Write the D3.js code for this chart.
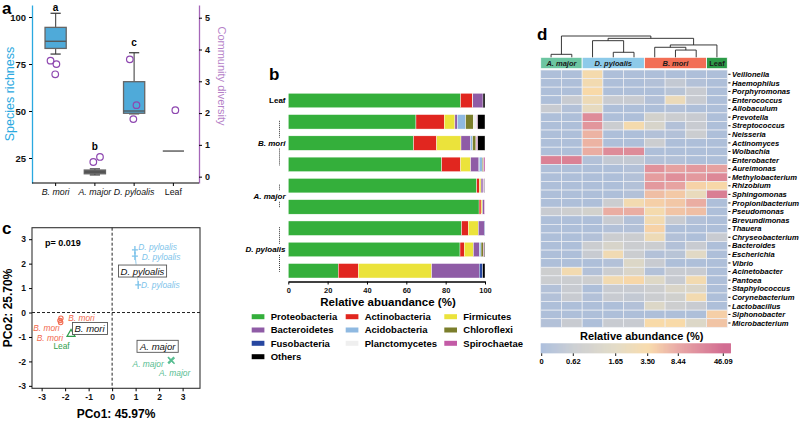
<!DOCTYPE html>
<html>
<head>
<meta charset="utf-8">
<script src="https://cdn.jsdelivr.net/npm/d3@7"></script>
<style>
  body { margin: 0; background: #fff; }
  svg { display: block; font-family: "Liberation Sans", Arial, sans-serif; }
</style>
</head>
<body>
<svg id="fig" width="800" height="421"></svg>
<script>
// ---------- panel a : richness boxplots + diversity points
const groupsA = ["B. mori", "A. major", "D. pyloalis", "Leaf"];
const richMin = [80.3, 16.0, 48.5, 28.7];
const richQ1  = [83.3, 16.6, 48.8, 28.7];
const richMed = [87.1, 17.5, 50.0, 28.7];
const richQ3  = [94.5, 18.6, 65.6, 28.7];
const richMax = [102.0, 19.2, 81.0, 28.7];
const sigLetters = ["a", "b", "c", ""];
const sigLetterAt = [105, 31, 86.5, null];
const divGroup = ["B. mori", "B. mori", "B. mori", "A. major", "A. major", "D. pyloalis", "D. pyloalis", "D. pyloalis", "Leaf"];
const divValue = [3.65, 3.54, 3.22, 0.46, 0.62, 3.69, 2.25, 1.81, 2.09];
const divJitter = [-0.13, 0.02, -0.01, -0.04, 0.13, -0.11, 0.06, -0.02, 0.05];
const richTicks = [25, 50, 75, 100];
const divTicks = [0, 1, 2, 3, 4, 5];

// ---------- panel b : phylum composition
const barSamples = ["Leaf", "BM1", "BM2", "BM3", "AM1", "AM2", "DP1", "DP2", "DP3"];
const phyla = ["Proteobacteria", "Actinobacteria", "Firmicutes", "Bacteroidetes", "Fusobacteria",
               "Acidobacteria", "Chloroflexi", "Planctomycetes", "Spirochaetae", "Others"];
const phylumColors = ["#34AF3B", "#E1261F", "#EBE33B", "#8F5CA6", "#2747A0",
                      "#8FB9E1", "#7B7E2B", "#EFEFEF", "#C35BA6", "#000000"];
const proteobacteria = [87.6, 64.9, 63.7, 78.0, 95.8, 97.0, 88.1, 87.3, 25.4];
const actinobacteria = [6.0, 14.4, 11.7, 9.6, 1.3, 1.0, 3.4, 2.2, 10.2];
const firmicutes     = [0.2, 5.4, 12.4, 5.1, 0.9, 0.7, 5.1, 4.6, 37.3];
const bacteroidetes  = [5.2, 1.2, 4.9, 4.2, 1.0, 1.0, 3.1, 3.0, 24.2];
const fusobacteria   = [0, 0, 0, 0.3, 0, 0, 0.3, 0, 1.7];
const acidobacteria  = [0, 4.3, 1.0, 1.4, 0.3, 0, 0, 0.9, 0];
const chloroflexi    = [0, 3.9, 1.7, 0.7, 0, 0, 0, 1.2, 0];
const planctomycetes = [0, 1.7, 0.2, 0, 0, 0, 0, 0, 0];
const spirochaetae   = [0, 0.5, 0.7, 0.7, 0.5, 0.3, 0, 0.4, 0];
const others         = [1.0, 3.7, 3.7, 0, 0.2, 0, 0, 0.4, 1.2];
const legendOrder = ["Proteobacteria", "Actinobacteria", "Firmicutes", "Bacteroidetes", "Acidobacteria",
                     "Chloroflexi", "Fusobacteria", "Planctomycetes", "Spirochaetae", "Others"];
const barGroupNames = ["Leaf", "B. mori", "A. major", "D. pyloalis"];
const barGroupFirst = [0, 1, 4, 6];
const barGroupLast  = [0, 3, 5, 8];
const pctTicks = [0, 20, 40, 60, 80, 100];

// ---------- panel c : PCoA
const pcoGroup = ["D. pyloalis", "D. pyloalis", "D. pyloalis", "B. mori", "B. mori", "B. mori", "Leaf", "A. major", "A. major"];
const pco1 = [0.97, 0.97, 1.11, -2.18, -2.22, -2.19, -1.75, 2.50, 2.53];
const pco2 = [2.56, 2.31, 1.13, -0.23, -0.33, -0.41, -0.88, -1.94, -1.97];
const pcoLabelX = [1.11, 1.26, 1.23, -1.87, -3.36, -3.21, -2.50, 0.87, 2.00];
const pcoLabelY = [2.67, 2.25, 1.13, -0.23, -0.64, -1.03, -1.39, -2.11, -2.48];
const centroidName = ["D. pyloalis", "B. mori", "A. major"];
const centroidX = [1.29, -0.96, 1.94];
const centroidY = [1.69, -0.66, -1.39];
const pcoTicks = [-3, -2, -1, 0, 1, 2, 3];
const groupColor = { "D. pyloalis": "#7DC3EA", "B. mori": "#F26B50", "Leaf": "#2E9E4A", "A. major": "#57BD91" };

// ---------- panel d : genus heatmap
const heatSamples = ["AM1", "AM2", "DP1", "DP2", "DP3", "BM1", "BM2", "BM3", "Leaf"];
const heatGroupNames = ["A. major", "D. pyloalis", "B. mori", "Leaf"];
const heatGroupSize = [2, 3, 3, 1];
const heatGroupColors = ["#6CC5A1", "#8DCAE9", "#F26E55", "#2C9B48"];
const genera = ["Veillonella", "Haemophilus", "Porphyromonas", "Enterococcus", "Allobaculum", "Prevotella",
  "Streptococcus", "Neisseria", "Actinomyces", "Wolbachia", "Enterobacter", "Aureimonas", "Methylobacterium",
  "Rhizobium", "Sphingomonas", "Propionibacterium", "Pseudomonas", "Brevundimonas", "Thauera",
  "Chryseobacterium", "Bacteroides", "Escherichia", "Vibrio", "Acinetobacter", "Pantoea", "Staphylococcus",
  "Corynebacterium", "Lactobacillus", "Siphonobacter", "Microbacterium"];
const abundance = [
  [0.1, 0.1, 3.2, 0.1, 0.1, 0.1, 0.1, 0.1, 0.1],
  [0.1, 0.1, 3.0, 0.1, 0.1, 0.2, 0.5, 0.2, 0.1],
  [0.1, 0.1, 3.6, 0.1, 0.1, 0.1, 0.3, 0.6, 0.1],
  [0.1, 0.6, 2.6, 0.6, 0.6, 0.2, 2.4, 0.6, 0.1],
  [0.6, 0.2, 2.0, 0.1, 0.1, 0.1, 0.2, 0.1, 0.1],
  [0.1, 0.1, 22, 0.1, 0.1, 1.0, 0.7, 0.6, 0.1],
  [0.1, 0.1, 16, 0.7, 3.2, 1.2, 0.2, 0.6, 0.1],
  [0.1, 0.1, 7.0, 0.1, 0.1, 0.2, 0.2, 0.7, 0.1],
  [0.1, 0.1, 7.0, 0.1, 0.1, 0.7, 0.1, 0.1, 0.1],
  [0.1, 0.1, 7.5, 22, 22, 0.1, 0.1, 0.1, 0.1],
  [28, 28, 0.2, 0.5, 0.5, 0.2, 0.2, 0.1, 0.1],
  [0.1, 0.1, 0.1, 0.1, 0.2, 18, 9.5, 14, 9.5],
  [0.1, 0.1, 0.1, 0.1, 0.2, 12, 20, 14, 24],
  [0.1, 0.1, 0.1, 0.1, 0.2, 14, 8.5, 4.2, 3.8],
  [0.1, 0.1, 0.1, 0.1, 0.2, 6.0, 5.0, 2.2, 30],
  [0.1, 0.1, 0.1, 0.7, 3.0, 4.5, 5.2, 7.5, 0.1],
  [0.6, 0.8, 1.0, 7.5, 7.5, 3.2, 5.5, 6.0, 0.1],
  [0.1, 0.1, 0.1, 0.6, 0.2, 3.0, 0.6, 0.2, 0.1],
  [0.1, 0.1, 0.1, 0.2, 0.2, 4.2, 0.1, 0.1, 0.1],
  [0.1, 0.1, 0.2, 0.7, 0.7, 2.6, 0.2, 0.1, 0.6],
  [0.1, 0.1, 0.7, 1.2, 0.7, 0.7, 0.2, 0.6, 0.1],
  [0.1, 0.1, 0.6, 2.8, 0.7, 0.2, 0.3, 1.6, 0.1],
  [0.1, 0.1, 0.1, 0.2, 1.4, 0.6, 0.1, 0.1, 0.1],
  [0.8, 3.0, 0.2, 0.7, 1.3, 0.2, 0.6, 0.6, 0.1],
  [0.7, 0.7, 0.8, 3.0, 3.8, 1.5, 0.6, 3.0, 0.1],
  [0.2, 0.6, 0.1, 0.6, 0.6, 0.8, 1.3, 1.3, 0.1],
  [0.2, 0.6, 0.2, 0.6, 0.5, 0.7, 0.9, 3.0, 0.1],
  [0.1, 0.1, 0.1, 0.1, 0.2, 1.4, 0.8, 0.6, 0.1],
  [0.1, 0.1, 0.1, 0.1, 0.1, 0.1, 0.1, 0.1, 4.5],
  [0.2, 0.6, 0.1, 0.6, 0.6, 3.5, 3.5, 1.4, 5.5]
];
const colorBreaks = [0, 0.62, 1.65, 3.50, 8.44, 46.09];
const colorBreakLabels = ["0", "0.62", "1.65", "3.50", "8.44", "46.09"];
const colorStops = ["#A9BCDB", "#C9CCD1", "#E2DAC4", "#F8DAA8", "#E7A3A1", "#CF628A"];
// column clustering (merge heights, relative)
const dendro = { h: 1.0, children: [
  { h: 0.14, children: [{ name: "AM1" }, { name: "AM2" }] },
  { h: 0.89, children: [
    { h: 0.78, children: [{ name: "DP1" }, { h: 0.235, children: [{ name: "DP2" }, { name: "DP3" }] }] },
    { h: 0.58, children: [
      { h: 0.47, children: [{ name: "BM1" }, { h: 0.34, children: [{ name: "BM2" }, { name: "BM3" }] }] },
      { name: "Leaf" }] }] }] };

const svg = d3.select("#fig");
svg.append("rect").attr("width", 800).attr("height", 421).attr("fill", "#fff");

function letter(t, x, y) {
  svg.append("text").attr("x", x).attr("y", y).attr("font-size", 17)
    .attr("font-weight", "bold").text(t);
}
letter("a", 2, 14); letter("b", 269, 80); letter("c", 2, 234); letter("d", 537, 40);

// axis text styling, dropping d3's own font attributes
function styleAxis(g, size, weight) {
  g.attr("font-family", null).attr("font-size", null);
  g.selectAll("text").attr("font-size", size).attr("font-weight", weight || "bold").attr("fill", "#111");
  return g;
}

// =============== panel a
const blueA = "#2AA9E0", purpleA = "#A566B8";
const xA = d3.scaleBand().domain(groupsA).range([36, 193]);
const yRich = d3.scaleLinear().domain([11.7, 106.4]).range([183, 5]);
const yDiv = d3.scaleLinear().domain([-0.2, 5.4]).range([183, 5]);
const ga = svg.append("g");

const axL = ga.append("g").attr("transform", "translate(32,0)")
  .call(d3.axisLeft(yRich).tickValues(richTicks).tickSize(3).tickSizeOuter(0));
axL.select(".domain").attr("stroke", blueA).attr("stroke-width", 1.3);
styleAxis(axL, 9.5);

const axR = ga.append("g").attr("transform", "translate(199,0)")
  .call(d3.axisRight(yDiv).tickValues(divTicks).tickFormat(d3.format("d")).tickSize(3).tickSizeOuter(0));
axR.select(".domain").attr("stroke", purpleA).attr("stroke-width", 1.3);
styleAxis(axR, 9);

const axB = ga.append("g").attr("transform", "translate(0,183)")
  .call(d3.axisBottom(xA).tickSize(3).tickSizeOuter(0));
axB.select(".domain").attr("d", "M32,0H199").attr("stroke-width", 1.2);
styleAxis(axB, 8.8, "normal");
axB.selectAll("text").attr("font-style", d => d === "Leaf" ? "normal" : "italic");

ga.append("text").attr("transform", "translate(14,94) rotate(-90)")
  .attr("text-anchor", "middle").attr("font-size", 12.5).attr("fill", blueA).text("Species richness");
ga.append("text").attr("transform", "translate(218,76) rotate(90)")
  .attr("text-anchor", "middle").attr("font-size", 11).attr("fill", "#B57FC8").text("Community diversity");

const boxW = xA.bandwidth() * 0.54, capW = xA.bandwidth() * 0.26;
groupsA.forEach((g, i) => {
  const cx = xA(g) + xA.bandwidth() / 2;
  if (richMin[i] === richMax[i]) {
    ga.append("line").attr("x1", cx - boxW / 2).attr("x2", cx + boxW / 2)
      .attr("y1", yRich(richMed[i])).attr("y2", yRich(richMed[i])).attr("stroke", "#555").attr("stroke-width", 1.4);
    return;
  }
  ga.append("line").attr("x1", cx).attr("x2", cx).attr("y1", yRich(richMin[i])).attr("y2", yRich(richMax[i]))
    .attr("stroke", "#555").attr("stroke-width", 1.2);
  [richMin[i], richMax[i]].forEach(v => ga.append("line").attr("x1", cx - capW / 2).attr("x2", cx + capW / 2)
    .attr("y1", yRich(v)).attr("y2", yRich(v)).attr("stroke", "#333").attr("stroke-width", 1.2));
  ga.append("rect").attr("x", cx - boxW / 2).attr("width", boxW)
    .attr("y", yRich(richQ3[i])).attr("height", yRich(richQ1[i]) - yRich(richQ3[i]))
    .attr("fill", i === 1 ? "#555" : "#4FAAD9").attr("stroke", "#666").attr("stroke-width", 1.3);
  ga.append("line").attr("x1", cx - boxW / 2).attr("x2", cx + boxW / 2)
    .attr("y1", yRich(richMed[i])).attr("y2", yRich(richMed[i])).attr("stroke", "#555").attr("stroke-width", 1.3);
  if (sigLetters[i]) ga.append("text").attr("x", cx).attr("y", yRich(sigLetterAt[i]) + 3.5)
    .attr("text-anchor", "middle").attr("font-size", 10).attr("font-weight", "bold").text(sigLetters[i]);
});
divValue.forEach((v, i) => {
  const g = divGroup[i];
  const cx = xA(g) + xA.bandwidth() / 2 + divJitter[i] * xA.step();
  ga.append("circle").attr("cx", cx).attr("cy", yDiv(v)).attr("r", 3.3)
    .attr("fill", "none").attr("stroke", "#8E47B0").attr("stroke-width", 1.2);
});

// =============== panel b
const gb = svg.append("g");
const xB = d3.scaleLinear().domain([0, 100]).range([288.3, 485]);
const yB = d3.scaleBand().domain(barSamples).range([89.9, 281.4]).paddingInner(0.32).paddingOuter(0.16);
const phylumValues = [proteobacteria, actinobacteria, firmicutes, bacteroidetes, fusobacteria,
  acidobacteria, chloroflexi, planctomycetes, spirochaetae, others];
const rows = barSamples.map((s, i) => {
  const r = { sample: s };
  phyla.forEach((p, k) => r[p] = phylumValues[k][i]);
  return r;
});
const stacked = d3.stack().keys(phyla)(rows);
const colorB = d3.scaleOrdinal().domain(phyla).range(phylumColors);
gb.selectAll("g.layer").data(stacked).join("g").attr("class", "layer")
  .attr("fill", d => colorB(d.key))
  .selectAll("rect").data(d => d.filter(e => e[1] > e[0])).join("rect")
  .attr("x", d => xB(d[0])).attr("width", d => xB(d[1]) - xB(d[0]))
  .attr("y", d => yB(d.data.sample)).attr("height", yB.bandwidth())
  .attr("stroke", "#fff").attr("stroke-width", 0.4);

const axBB = gb.append("g").attr("transform", "translate(0,281.5)")
  .call(d3.axisBottom(xB).tickValues(pctTicks).tickSize(3).tickSizeOuter(0));
axBB.select(".domain").attr("stroke-width", 1.6);
styleAxis(axBB, 7.5);
gb.append("text").attr("x", 388).attr("y", 306).attr("text-anchor", "middle")
  .attr("font-size", 11.5).attr("font-weight", "bold").text("Relative abuandance (%)");

barGroupNames.forEach((name, i) => {
  const yTop = yB(barSamples[barGroupFirst[i]]) + yB.bandwidth() / 2;
  const yBot = yB(barSamples[barGroupLast[i]]) + yB.bandwidth() / 2;
  const yMid = (yTop + yBot) / 2;
  gb.append("text").attr("x", 285.5).attr("y", yMid).attr("dy", "0.35em").attr("text-anchor", "end")
    .attr("font-size", 8).attr("font-weight", "bold").attr("font-style", name === "Leaf" ? "normal" : "italic")
    .text(name);
  if (yBot > yTop) {
    [[yTop - 1, yMid - 5.5], [yMid + 5.5, yBot + 1]].forEach(([a, b]) => {
      gb.append("line").attr("x1", 279.5).attr("x2", 279.5).attr("y1", a).attr("y2", b)
        .attr("stroke", "#222").attr("stroke-width", 0.9).attr("stroke-dasharray", "1,1");
    });
  }
});

const legColX = [251.7, 345.7, 444.3], legRowY = [316.7, 330, 343.3, 356.7];
legendOrder.forEach((p, i) => {
  const cx = legColX[i % 3], cy = legRowY[Math.floor(i / 3)];
  gb.append("rect").attr("x", cx).attr("y", cy - 2.5).attr("width", 12.7).attr("height", 5).attr("fill", colorB(p));
  gb.append("text").attr("x", cx + 19).attr("y", cy).attr("dy", "0.35em")
    .attr("font-size", 9.5).attr("font-weight", "bold").text(p);
});

// =============== panel c
const gc = svg.append("g");
const xC = d3.scaleLinear().domain([-3.41, 3.74]).range([32, 200]);
const yC = d3.scaleLinear().domain([-3.1, 3.47]).range([388.3, 227.7]);
gc.append("rect").attr("x", 32).attr("y", 227.7).attr("width", 168).attr("height", 160.6)
  .attr("fill", "none").attr("stroke", "#333").attr("stroke-width", 1.1);
const axCx = gc.append("g").attr("transform", "translate(0,388.3)")
  .call(d3.axisBottom(xC).tickValues(pcoTicks).tickFormat(d => String(d)).tickSize(3).tickSizeOuter(0));
axCx.select(".domain").remove();
styleAxis(axCx, 8.5);
const axCy = gc.append("g").attr("transform", "translate(32,0)")
  .call(d3.axisLeft(yC).tickValues(pcoTicks).tickFormat(d => String(d)).tickSize(3).tickSizeOuter(0));
axCy.select(".domain").remove();
styleAxis(axCy, 8.5);
gc.append("line").attr("x1", xC(0)).attr("x2", xC(0)).attr("y1", 227.7).attr("y2", 388.3)
  .attr("stroke", "#222").attr("stroke-dasharray", "3,2");
gc.append("line").attr("x1", 32).attr("x2", 200).attr("y1", yC(0)).attr("y2", yC(0))
  .attr("stroke", "#222").attr("stroke-dasharray", "3,2");
gc.append("text").attr("x", 116).attr("y", 418).attr("text-anchor", "middle")
  .attr("font-size", 12).attr("font-weight", "bold").text("PCo1: 45.97%");
gc.append("text").attr("transform", "translate(12,308) rotate(-90)").attr("text-anchor", "middle")
  .attr("font-size", 12).attr("font-weight", "bold").text("PCo2: 25.70%");
gc.append("text").attr("x", 45).attr("y", 242.5).attr("dy", "0.35em")
  .attr("font-size", 9).attr("font-weight", "bold").text("p= 0.019");

// spider lines from group means
d3.groups(pco1.map((v, i) => i), i => pcoGroup[i]).forEach(([g, idx]) => {
  if (idx.length < 2) return;
  const mx = d3.mean(idx, i => pco1[i]), my = d3.mean(idx, i => pco2[i]);
  idx.forEach(i => gc.append("line").attr("x1", xC(mx)).attr("y1", yC(my))
    .attr("x2", xC(pco1[i])).attr("y2", yC(pco2[i]))
    .attr("stroke", groupColor[g]).attr("stroke-width", 0.8).attr("opacity", 0.6));
});
pco1.forEach((v, i) => {
  const g = pcoGroup[i], c = groupColor[g], px = xC(v), py = yC(pco2[i]);
  if (g === "D. pyloalis") {
    gc.append("path").attr("d", `M${px - 3},${py}H${px + 3}M${px},${py - 4}V${py + 4}`)
      .attr("stroke", c).attr("stroke-width", 1.3).attr("fill", "none");
  } else if (g === "A. major") {
    gc.append("path").attr("d", `M${px - 3},${py - 3}L${px + 3},${py + 3}M${px - 3},${py + 3}L${px + 3},${py - 3}`)
      .attr("stroke", c).attr("stroke-width", 1.3);
  } else if (g === "Leaf") {
    gc.append("path").attr("transform", `translate(${px},${py})`)
      .attr("d", d3.symbol(d3.symbolTriangle, 28)()).attr("fill", "none").attr("stroke", c).attr("stroke-width", 1.2);
  } else {
    gc.append("circle").attr("cx", px).attr("cy", py).attr("r", 2.2)
      .attr("fill", "none").attr("stroke", c).attr("stroke-width", 1.1);
  }
  gc.append("text").attr("x", xC(pcoLabelX[i])).attr("y", yC(pcoLabelY[i])).attr("dy", "0.35em")
    .attr("font-size", 8.4).attr("font-style", g === "Leaf" ? "normal" : "italic").attr("fill", c).text(g);
});
centroidName.forEach((n, i) => {
  const t = gc.append("text").attr("x", xC(centroidX[i])).attr("y", yC(centroidY[i])).attr("dy", "0.35em")
    .attr("text-anchor", "middle").attr("font-size", 9.5).attr("font-style", "italic").attr("fill", "#111").text(n);
  const bb = t.node().getBBox();
  gc.insert("rect", () => t.node()).attr("x", bb.x - 2).attr("y", bb.y - 0.5)
    .attr("width", bb.width + 4).attr("height", bb.height + 1)
    .attr("fill", "#fff").attr("stroke", "#555").attr("stroke-width", 0.9);
});

// =============== panel d
const gd = svg.append("g");
const xD = d3.scaleBand().domain(heatSamples).range([540.7, 727.3]);
const yD = d3.scaleBand().domain(genera).range([70, 327.3]);
const colorD = d3.scaleLinear().domain(colorBreaks).range(colorStops).clamp(true);
genera.forEach((gname, r) => {
  heatSamples.forEach((s, c) => {
    gd.append("rect").attr("x", xD(s)).attr("y", yD(gname)).attr("width", xD.bandwidth()).attr("height", yD.bandwidth())
      .attr("fill", colorD(abundance[r][c])).attr("stroke", "#EEF0F4").attr("stroke-width", 0.7);
  });
  const cy = yD(gname) + yD.bandwidth() / 2;
  gd.append("line").attr("x1", 728.3).attr("x2", 730.5).attr("y1", cy).attr("y2", cy).attr("stroke", "#111");
  gd.append("text").attr("x", 732).attr("y", cy).attr("dy", "0.35em").attr("font-size", 7.6)
    .attr("font-weight", "bold").attr("font-style", "italic").text(gname);
});
// group header
let start = 0;
heatGroupNames.forEach((n, i) => {
  const x0 = xD(heatSamples[start]), x1 = xD(heatSamples[start + heatGroupSize[i] - 1]) + xD.bandwidth();
  gd.append("rect").attr("x", x0).attr("y", 57.3).attr("width", x1 - x0).attr("height", 11.4)
    .attr("fill", heatGroupColors[i]).attr("stroke", "#fff").attr("stroke-width", 0.8);
  gd.append("text").attr("x", (x0 + x1) / 2).attr("y", 63).attr("dy", "0.35em").attr("text-anchor", "middle")
    .attr("font-size", 7.5).attr("font-weight", "bold").attr("font-style", n === "Leaf" ? "normal" : "italic")
    .attr("fill", "#1a1a1a").text(n);
  start += heatGroupSize[i];
});
// dendrogram
const root = d3.hierarchy(dendro);
const yDen = d3.scaleLinear().domain([0, 1]).range([57.3, 36]);
root.eachAfter(n => {
  n.px = n.children ? d3.mean(n.children, c => c.px) : xD(n.data.name) + xD.bandwidth() / 2;
  n.hh = n.children ? n.data.h : 0;
});
root.each(n => {
  if (!n.children) return;
  const yy = yDen(n.hh);
  const d = `M${n.children[0].px},${yDen(n.children[0].hh)}V${yy}H${n.children[1].px}V${yDen(n.children[1].hh)}`;
  gd.append("path").attr("d", d).attr("fill", "none").attr("stroke", "#222").attr("stroke-width", 0.9);
});
// color key
gd.append("text").attr("x", 641.7).attr("y", 339.5).attr("text-anchor", "middle")
  .attr("font-size", 11).attr("font-weight", "bold").text("Relative abundance (%)");
const keyPos = d3.scaleLinear().domain(colorBreaks).range([541.7, 573.3, 615.7, 647.7, 678.3, 723.3]);
for (let px = 540.7; px < 730.7; px += 1) {
  gd.append("rect").attr("x", px).attr("y", 343.3).attr("width", 1.2).attr("height", 10)
    .attr("fill", colorD(keyPos.invert(Math.max(px, 541.7))));
}
colorBreaks.forEach((v, i) => {
  const px = keyPos(v);
  gd.append("line").attr("x1", px).attr("x2", px).attr("y1", 353.3).attr("y2", 356).attr("stroke", "#222");
  gd.append("text").attr("x", px).attr("y", 361).attr("dy", "0.35em").attr("text-anchor", "middle")
    .attr("font-size", 7.5).attr("font-weight", "bold").text(colorBreakLabels[i]);
});
</script>
</body>
</html>
